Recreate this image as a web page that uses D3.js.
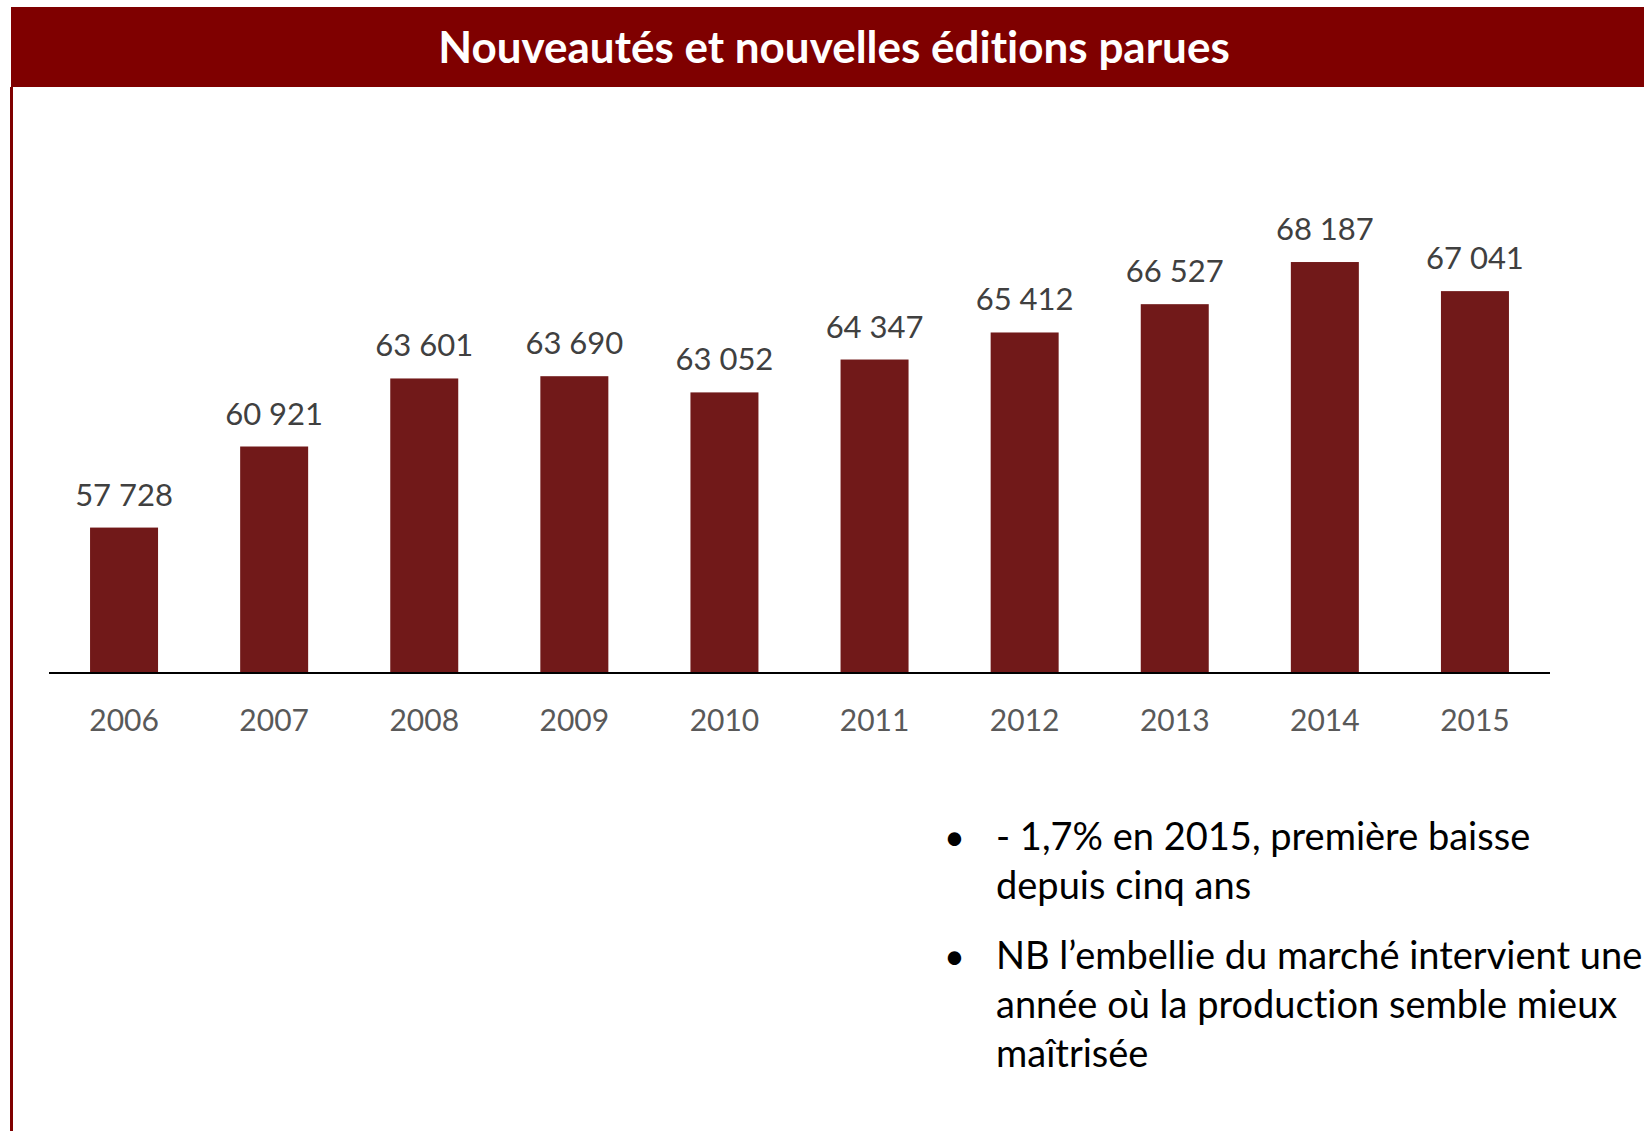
<!DOCTYPE html>
<html>
<head>
<meta charset="utf-8">
<script src="https://cdn.jsdelivr.net/npm/d3@7"></script>
<style>
  html, body { margin: 0; padding: 0; background: #ffffff; }
  svg { display: block; }
  text { font-variant-ligatures: none; }
</style>
</head>
<body>
<script>
const title = "Nouveautés et nouvelles éditions parues";
const years = ["2006", "2007", "2008", "2009", "2010", "2011", "2012", "2013", "2014", "2015"];
const values = [57728, 60921, 63601, 63690, 63052, 64347, 65412, 66527, 68187, 67041];
const bullets = [
  ["- 1,7% en 2015, première baisse", "depuis cinq ans"],
  ["NB l’embellie du marché intervient une", "année où la production semble mieux", "maîtrisée"]
];

const W = 1644, H = 1131;
const maroon = "#7f0000";
const barColor = "#711919";
const font = "Lato, 'Open Sans', sans-serif";

const svg = d3.select("body").append("svg").attr("width", W).attr("height", H);
svg.append("rect").attr("width", W).attr("height", H).attr("fill", "#fff");

// Title banner
svg.append("rect").attr("x", 11).attr("y", 7).attr("width", W - 11).attr("height", 80).attr("fill", maroon);
svg.append("line").attr("x1", 11.5).attr("x2", 11.5).attr("y1", 87).attr("y2", H)
  .attr("stroke", maroon).attr("stroke-width", 3);
svg.append("text").attr("x", 834).attr("y", 63).attr("text-anchor", "middle")
  .attr("font-family", font).attr("font-weight", "bold").attr("font-size", 44)
  .attr("fill", "#fff").text(title);

// Scales
const x = d3.scaleBand().domain(years).range([49, 1550]).paddingInner(0.547).paddingOuter(0.2735);
const y = d3.scaleLinear().domain([52000, 70000]).range([673, 216]);
const fmt = d3.formatLocale({ decimal: ",", thousands: " ", grouping: [3], currency: ["", " €"] }).format(",d");

const data = years.map((yr, i) => ({ year: yr, value: values[i] }));

svg.selectAll("rect.bar").data(data).enter().append("rect")
  .attr("class", "bar")
  .attr("x", d => x(d.year))
  .attr("width", x.bandwidth())
  .attr("y", d => y(d.value))
  .attr("height", d => y(52000) - y(d.value))
  .attr("fill", barColor);

svg.selectAll("text.val").data(data).enter().append("text")
  .attr("class", "val")
  .attr("x", d => x(d.year) + x.bandwidth() / 2)
  .attr("y", d => y(d.value) - 22)
  .attr("text-anchor", "middle")
  .attr("font-family", font).attr("font-size", 31).attr("fill", "#404040")
  .text(d => fmt(d.value));

// Axis
const axis = svg.append("g").attr("transform", "translate(0,673)")
  .call(d3.axisBottom(x).tickSize(0).tickPadding(37));
axis.select(".domain").attr("d", "M49,0H1550").attr("stroke", "#000").attr("stroke-width", 2);
axis.selectAll(".tick text").attr("font-family", font).attr("font-size", 30).attr("fill", "#595959");

// Bullets
const bx = 944, tx = 996, lh = 49;
let by = 850;
bullets.forEach((lines, bi) => {
  svg.append("text").attr("x", bx).attr("y", by).attr("font-family", font)
    .attr("font-size", 36).attr("fill", "#000").text("•");
  lines.forEach((ln, li) => {
    svg.append("text").attr("x", tx).attr("y", by + li * lh).attr("font-family", font)
      .attr("font-size", 38).attr("fill", "#000").text(ln);
  });
  by += lines.length * lh + 21;
});
</script>
</body>
</html>
